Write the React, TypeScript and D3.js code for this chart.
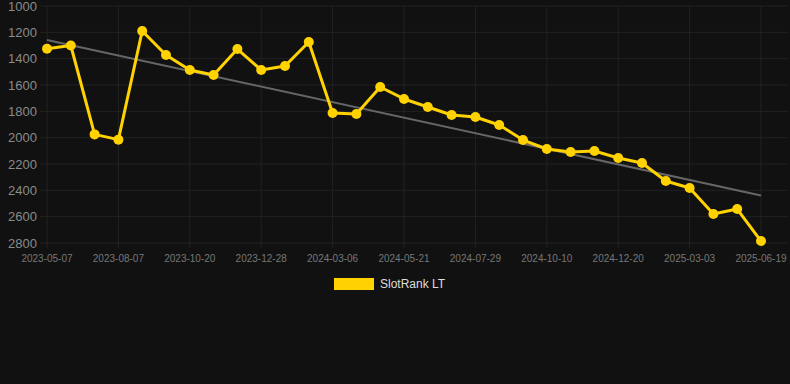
import React, { useEffect, useRef } from 'react';
import * as d3 from 'd3';

// category dates (only every third one is shown on the axis)
const dates = [
  '2023-05-07', '2023-06-07', '2023-07-07', '2023-08-07', '2023-09-01', '2023-09-26',
  '2023-10-20', '2023-11-12', '2023-12-05', '2023-12-28', '2024-01-20', '2024-02-12',
  '2024-03-06', '2024-03-31', '2024-04-26', '2024-05-21', '2024-06-13', '2024-07-06',
  '2024-07-29', '2024-08-22', '2024-09-16', '2024-10-10', '2024-11-02', '2024-11-26',
  '2024-12-20', '2025-01-13', '2025-02-07', '2025-03-03', '2025-04-08', '2025-05-14',
  '2025-06-19',
];

const rankValues = [
  1325, 1300, 1975, 2015, 1190, 1372, 1486, 1524, 1327, 1486, 1456, 1273, 1813, 1820,
  1615, 1706, 1767, 1828, 1843, 1904, 2018, 2086, 2109, 2101, 2154, 2192, 2329, 2382,
  2580, 2542, 2785,
];

const yTicks = [1000, 1200, 1400, 1600, 1800, 2000, 2200, 2400, 2600, 2800];
const seriesName = 'SlotRank LT';

const App = () => {
  const svgRef = useRef<SVGSVGElement>(null);

  useEffect(() => {
    document.body.style.margin = '0';
    document.body.style.background = '#111111';

    const width = 790;
    const height = 384;
    const left = 40;
    const right = 788;
    const top = 6;
    const bottom = 243;

    const svg = d3.select(svgRef.current);
    svg.selectAll('*').remove();

    svg.append('rect').attr('width', width).attr('height', height).attr('fill', '#111111');

    const x = d3.scalePoint<string>().domain(dates).range([47, 761]);
    const y = d3.scaleLinear().domain([1000, 2800]).range([top, bottom]);

    const tickDates = dates.filter((_, i) => i % 3 === 0);

    // grid
    svg.append('g')
      .selectAll('line')
      .data(yTicks)
      .join('line')
      .attr('x1', left)
      .attr('x2', right)
      .attr('y1', d => y(d))
      .attr('y2', d => y(d))
      .attr('stroke', '#222222')
      .attr('stroke-width', 1);

    svg.append('g')
      .selectAll('line')
      .data(tickDates)
      .join('line')
      .attr('x1', d => x(d)!)
      .attr('x2', d => x(d)!)
      .attr('y1', top)
      .attr('y2', bottom + 5)
      .attr('stroke', '#222222')
      .attr('stroke-width', 1);

    // y labels
    svg.append('g')
      .selectAll('text')
      .data(yTicks)
      .join('text')
      .attr('x', 37)
      .attr('y', d => y(d))
      .attr('dy', '0.35em')
      .attr('text-anchor', 'end')
      .attr('fill', '#8a8a8a')
      .attr('font-size', 13)
      .attr('font-family', 'Liberation Sans, Arial, sans-serif')
      .text(d => d);

    // x labels
    svg.append('g')
      .selectAll('text')
      .data(tickDates)
      .join('text')
      .attr('x', d => x(d)!)
      .attr('y', 262)
      .attr('text-anchor', 'middle')
      .attr('fill', '#777777')
      .attr('font-size', 10)
      .attr('font-family', 'Liberation Sans, Arial, sans-serif')
      .text(d => d);

    // trend line (least squares over index)
    const n = rankValues.length;
    const idx = d3.range(n);
    const mx = d3.mean(idx)!;
    const my = d3.mean(rankValues)!;
    const slope = d3.sum(idx, i => (i - mx) * (rankValues[i] - my)) / d3.sum(idx, i => (i - mx) ** 2);
    const intercept = my - slope * mx;
    svg.append('line')
      .attr('x1', x(dates[0])!)
      .attr('y1', y(intercept))
      .attr('x2', x(dates[n - 1])!)
      .attr('y2', y(intercept + slope * (n - 1)))
      .attr('stroke', '#666666')
      .attr('stroke-width', 2);

    const data = dates.map((d, i) => ({ date: d, value: rankValues[i] }));
    const line = d3.line<{ date: string; value: number }>()
      .x(d => x(d.date)!)
      .y(d => y(d.value));

    svg.append('path')
      .datum(data)
      .attr('fill', 'none')
      .attr('stroke', '#ffd200')
      .attr('stroke-width', 3)
      .attr('stroke-linejoin', 'round')
      .attr('d', line);

    svg.append('g')
      .selectAll('circle')
      .data(data)
      .join('circle')
      .attr('cx', d => x(d.date)!)
      .attr('cy', d => y(d.value))
      .attr('r', 5)
      .attr('fill', '#ffd200');

    // legend
    const lg = svg.append('g');
    lg.append('rect')
      .attr('x', 334)
      .attr('y', 278)
      .attr('width', 40)
      .attr('height', 12)
      .attr('fill', '#ffd200');
    lg.append('text')
      .attr('x', 380)
      .attr('y', 284)
      .attr('dy', '0.35em')
      .attr('fill', '#dddddd')
      .attr('font-size', 12)
      .attr('font-family', 'Liberation Sans, Arial, sans-serif')
      .text(seriesName);
  }, []);

  return <svg ref={svgRef} width={790} height={384} style={{ display: 'block' }} />;
};

export default App;
